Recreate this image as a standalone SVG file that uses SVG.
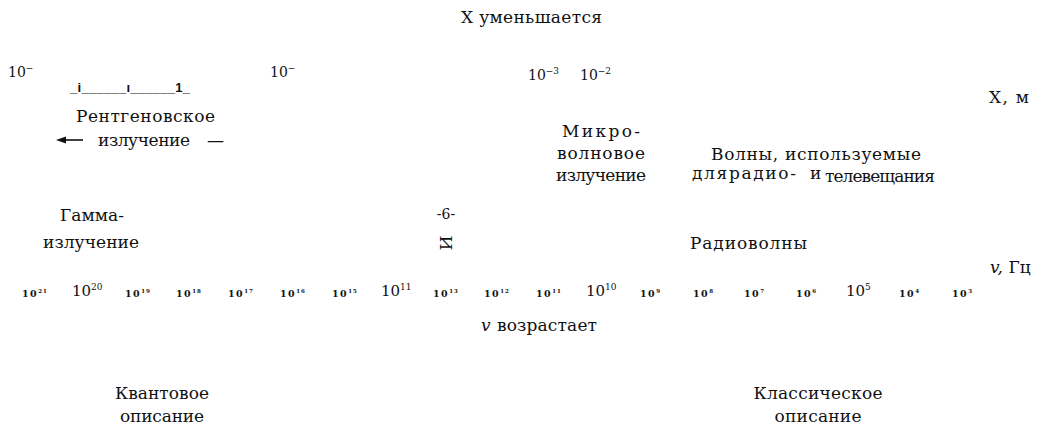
<svg xmlns="http://www.w3.org/2000/svg" width="1041" height="430" viewBox="0 0 1041 430">
<style>
text{font-family:'DejaVu Serif',serif;fill:#111}
.l{font-size:17px}
.m{font-size:14px}
.s{font-size:9.5px;font-weight:bold;letter-spacing:1.5px}
.ss{font-size:5.5px;font-weight:bold;letter-spacing:1px}
.b{font-size:15px}
.bs{font-size:9px}
.c{text-anchor:middle}
</style>
<rect width="1041" height="430" fill="#fff"/>
<g id="title"><text class="l" x="461" y="23" textLength="141">X уменьшается</text></g>
<g id="wavelength-scale">
<text class="m" x="8" y="77">10<tspan class="bs" dy="-6">−</tspan></text>
<text class="m" x="270" y="77">10<tspan class="bs" dy="-6">−</tspan></text>
<text style="font-family:'Liberation Sans',Arial,sans-serif;font-size:13px;font-weight:bold" x="70" y="92" textLength="120">_i______ı______1_</text>
<text class="m" x="528" y="80">10<tspan class="bs" dy="-6">−3</tspan></text>
<text class="m" x="580" y="80">10<tspan class="bs" dy="-6">−2</tspan></text>
<text class="l" x="989" y="103" textLength="40">X, м</text>
</g>
<g id="xray">
<text class="l" x="76" y="122" textLength="139">Рентгеновское</text>
<text class="l" x="98" y="146" textLength="92">излучение</text>
<text class="l" x="207" y="146" textLength="13">—</text>
</g>
<g id="connectors">
<line x1="63" y1="140" x2="83" y2="140" stroke="#111" stroke-width="1.6"/>
<polygon points="56,140 66,136.5 66,143.5" fill="#111"/>
</g>
<g id="microwave">
<text class="l c" x="601" y="137" textLength="78">Микро-</text>
<text class="l c" x="601" y="159" textLength="88">волновое</text>
<text class="l c" x="601" y="181" textLength="90">излучение</text>
</g>
<g id="broadcast">
<text class="l" x="711" y="160" textLength="210">Волны, используемые</text>
<text class="l" x="692" y="179" textLength="104">дляpадио-</text>
<text class="l" x="810" y="179" textLength="13">и</text>
<text class="l" x="825" y="182" textLength="110">телевещания</text>
</g>
<g id="gamma">
<text class="l" x="60" y="221" textLength="64">Гамма-</text>
<text class="l" x="43" y="248" textLength="96">излучение</text>
</g>
<g id="visible">
<text class="m c" x="446" y="219">-6-</text>
<text class="l" transform="translate(446 243) rotate(90)" text-anchor="middle" dy="6">И</text>
</g>
<g id="radio"><text class="l" x="690" y="249" textLength="117">Радиоволны</text></g>
<g id="freq-unit"><text class="l" x="990" y="273"><tspan font-style="italic">v,</tspan> Гц</text></g>
<g id="frequency-scale">
<text class="s" x="22" y="297">10<tspan class="ss" dy="-4">21</tspan></text>
<text class="b" x="72" y="296">10<tspan class="bs" dy="-6">20</tspan></text>
<text class="s" x="125" y="297">10<tspan class="ss" dy="-4">19</tspan></text>
<text class="s" x="176" y="297">10<tspan class="ss" dy="-4">18</tspan></text>
<text class="s" x="228" y="297">10<tspan class="ss" dy="-4">17</tspan></text>
<text class="s" x="280" y="297">10<tspan class="ss" dy="-4">16</tspan></text>
<text class="s" x="332" y="297">10<tspan class="ss" dy="-4">15</tspan></text>
<text class="b" x="381" y="296">10<tspan class="bs" dy="-6">11</tspan></text>
<text class="s" x="433" y="297">10<tspan class="ss" dy="-4">13</tspan></text>
<text class="s" x="484" y="297">10<tspan class="ss" dy="-4">12</tspan></text>
<text class="s" x="536" y="297">10<tspan class="ss" dy="-4">11</tspan></text>
<text class="b" x="586" y="296">10<tspan class="bs" dy="-6">10</tspan></text>
<text class="s" x="640" y="297">10<tspan class="ss" dy="-4">9</tspan></text>
<text class="s" x="693" y="297">10<tspan class="ss" dy="-4">8</tspan></text>
<text class="s" x="744" y="297">10<tspan class="ss" dy="-4">7</tspan></text>
<text class="s" x="796" y="297">10<tspan class="ss" dy="-4">6</tspan></text>
<text class="b" x="846" y="296">10<tspan class="bs" dy="-6">5</tspan></text>
<text class="s" x="899" y="297">10<tspan class="ss" dy="-4">4</tspan></text>
<text class="s" x="952" y="297">10<tspan class="ss" dy="-4">3</tspan></text>
</g>
<g id="freq-increase">
<text class="l" x="481" y="331" font-style="italic">v</text>
<text class="l" x="497" y="331" textLength="100">возрастает</text>
</g>
<g id="quantum">
<text class="l c" x="162" y="399" textLength="94">Квантовое</text>
<text class="l c" x="162" y="422" textLength="84">описание</text>
</g>
<g id="classical">
<text class="l c" x="818" y="399" textLength="129">Классическое</text>
<text class="l c" x="818" y="422" textLength="87">описание</text>
</g>
</svg>
